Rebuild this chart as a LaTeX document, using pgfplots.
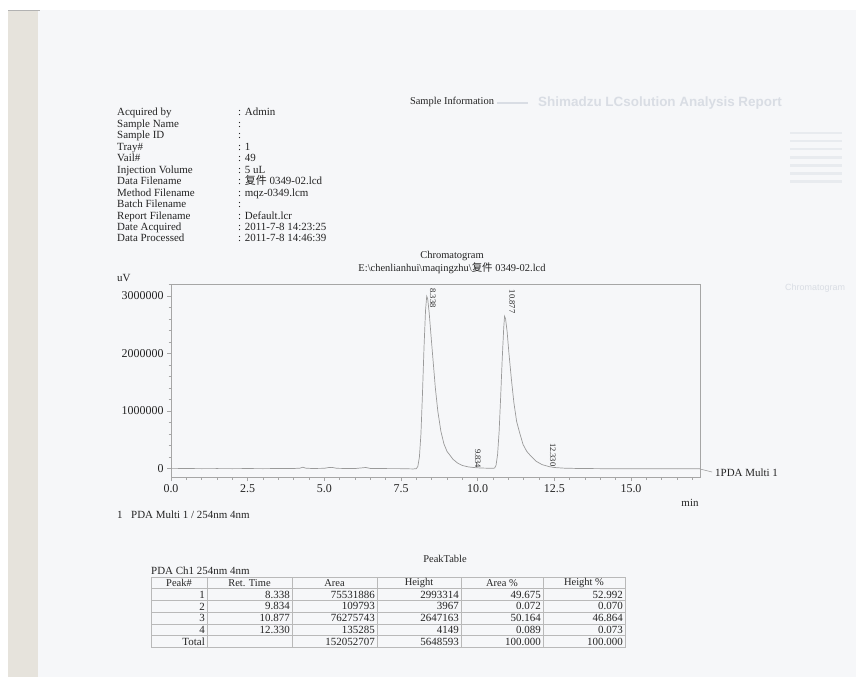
\documentclass[border=0pt]{standalone}
\usepackage{pgfplots}
\pgfplotsset{compat=1.18}
\usepackage{fontspec}
\setmainfont{Liberation Serif}
\newfontfamily\cjk{Noto Sans CJK SC}
\newfontfamily\ghostfont{Liberation Sans}

\definecolor{ink}{HTML}{242424}
\definecolor{paper}{HTML}{F6F7F9}
\definecolor{edge}{HTML}{E6E3DC}
\definecolor{axgray}{HTML}{A6A6A6}
\definecolor{trace}{HTML}{9A9A9A}
\definecolor{ghost}{HTML}{D9DDE4}

\begin{document}
\begin{tikzpicture}[
  txt/.style={inner sep=0pt, text=ink, font=\fontsize{11}{13}\selectfont},
  small/.style={inner sep=0pt, text=ink, font=\fontsize{10.5}{12}\selectfont},
  cell/.style={inner sep=0pt, text=ink, font=\fontsize{11}{12}\selectfont},
]
\begin{scope}[x=1bp, y=-1bp]
  % page and scanner edge
  \path[use as bounding box, fill=white] (0,0) rectangle (856,677);
  \fill[paper] (8,10) rectangle (856,677);
  \fill[edge] (8,10) rectangle (38,677);
  \draw[gray!60, line width=1bp] (8,10.5) -- (40,10.5);

  % bleed-through from the back of the sheet
  \node[inner sep=0pt, text=ghost, anchor=west, font=\ghostfont\bfseries\fontsize{13.5}{15}\selectfont] at (538,103) {Shimadzu LCsolution Analysis Report};
  \draw[ghost, line width=2bp] (497,103) -- (528,103);
  \foreach \i in {0,...,6}
    \fill[ghost!60] (790,{132+8*\i}) rectangle (842,{134.5+8*\i});
  \node[inner sep=0pt, text=ghost, anchor=west, font=\ghostfont\fontsize{9}{11}\selectfont] at (785,288) {Chromatogram};

  % sample information
  \node[small] at (452,102) {Sample Information};
  \foreach \i/\l/\v in {0/Acquired by/Admin, 1/Sample Name/, 2/Sample ID/, 3/Tray\#/1,
      4/Vail\#/49, 5/Injection Volume/5 uL, 6/Data Filename/{{\cjk 复件} 0349-02.lcd},
      7/Method Filename/mqz-0349.lcm, 8/Batch Filename/, 9/Report Filename/Default.lcr,
      10/Date Acquired/2011-7-8 14:23:25, 11/Data Processed/2011-7-8 14:46:39} {
    \node[txt, anchor=base west] at (117,{116+11.45*\i}) {\l};
    \node[txt, anchor=base west] at (238,{116+11.45*\i}) {: \v};
  }

  % chromatogram titles
  \node[small] at (452,256) {Chromatogram};
  \node[small] at (452,268) {E:\textbackslash chenlianhui\textbackslash maqingzhu\textbackslash{\cjk 复件} 0349-02.lcd};
  \node[txt, anchor=west] at (117,278) {uV};
  \node[txt] at (690,503) {min};
  \draw[trace, line width=0.6bp] (700,469) -- (712,472);
  \node[txt, anchor=west] at (715,473) {1PDA Multi 1};
  \node[txt, anchor=west] at (117,515) {1};
  \node[txt, anchor=west] at (131,515) {PDA Multi 1 / 254nm 4nm};

  % peak table
  \node[small] at (445,559) {PeakTable};
  \node[txt, anchor=west] at (151,571) {PDA Ch1 254nm 4nm};
  \draw[gray!55, line width=0.6bp] (151,577) rectangle (625,647.2);
  \foreach \c in {207,292,377,461,543}
    \draw[gray!55, line width=0.6bp] (\c,577) -- (\c,647.2);
  \foreach \r in {1,...,5}
    \draw[gray!55, line width=0.5bp] (151,{577+11.7*\r}) -- (625,{577+11.7*\r});
  \foreach \x/\t in {179/Peak\#, 249.5/Ret. Time, 334.5/Area, 419/Height, 502/Area \%, 584/Height \%}
    \node[small] at (\x,583) {\t};
  \foreach \i/\a/\b/\c/\d/\e/\f in {1/1/8.338/75531886/2993314/49.675/52.992,
      2/2/9.834/109793/3967/0.072/0.070,
      3/3/10.877/76275743/2647163/50.164/46.864,
      4/4/12.330/135285/4149/0.089/0.073,
      5/Total//152052707/5648593/100.000/100.000} {
    \node[cell, anchor=east] at (205,{583+11.7*\i}) {\a};
    \node[cell, anchor=east] at (290,{583+11.7*\i}) {\b};
    \node[cell, anchor=east] at (375,{583+11.7*\i}) {\c};
    \node[cell, anchor=east] at (459,{583+11.7*\i}) {\d};
    \node[cell, anchor=east] at (541,{583+11.7*\i}) {\e};
    \node[cell, anchor=east] at (623,{583+11.7*\i}) {\f};
  }
  \coordinate (ax) at (171,477);
\end{scope}

\begin{axis}[
  at={(ax)}, anchor=south west, scale only axis,
  width=529bp, height=193bp,
  xmin=0, xmax=17.25, ymin=-145000, ymax=3206000,
  axis line style={draw=axgray, line width=0.6bp},
  tick style={draw=axgray, line width=0.6bp},
  tick align=outside, xtick pos=bottom, ytick pos=left,
  major tick length=4bp, minor tick length=2.5bp,
  xtick={0,2.5,5,7.5,10,12.5,15},
  minor xtick={0,0.5,...,17},
  ytick={0,1000000,2000000,3000000},
  minor ytick={0,200000,...,3200000},
  scaled ticks=false,
  xticklabel style={/pgf/number format/.cd, fixed, fixed zerofill, precision=1},
  yticklabel style={/pgf/number format/.cd, fixed, 1000 sep={}},
  /pgf/number format/assume math mode=true,
  ticklabel style={font=\fontsize{12}{14}\selectfont, text=ink},
  clip=false,
]
\addplot[trace, line width=0.7bp] coordinates {
  (0,0) (0.5,2000) (1.0,0) (1.5,1000) (2.0,0) (2.5,1500) (3.0,0) (3.5,2000)
  (4.0,3000) (4.2,8000) (4.3,25000) (4.4,8000) (4.6,3000) (5.0,6000)
  (5.15,20000) (5.25,22000) (5.4,6000) (5.7,3000) (6.0,2000) (6.25,15000)
  (6.35,20000) (6.5,4000) (7.0,1000) (7.5,0) (7.9,-5000) (8.0,0)
  (8.05,40000) (8.10,200000) (8.15,600000) (8.20,1300000) (8.25,2100000)
  (8.30,2750000) (8.338,2993314) (8.37,2950000) (8.42,2700000) (8.48,2300000)
  (8.55,1850000) (8.62,1400000) (8.70,1000000) (8.80,650000) (8.90,430000)
  (9.00,300000) (9.10,230000) (9.20,160000) (9.35,95000) (9.50,55000)
  (9.70,30000) (9.834,22000) (9.95,16000) (10.1,11000) (10.4,7000) (10.55,9000)
  (10.60,60000) (10.65,250000) (10.70,650000) (10.75,1250000) (10.80,1900000)
  (10.85,2450000) (10.877,2647163) (10.91,2600000) (10.96,2380000)
  (11.02,2000000) (11.10,1550000) (11.18,1150000) (11.27,820000)
  (11.37,620000) (11.48,420000) (11.60,300000) (11.75,210000) (11.90,130000)
  (12.10,70000) (12.33,35000) (12.50,20000) (12.80,9000) (13.2,4000)
  (13.5,2000) (14,0) (15,0) (16,0) (17.25,0)
};
\node[rotate=-90, inner sep=0pt, text=ink, font=\fontsize{8.5}{10}\selectfont] at (axis cs:8.54,2960000) {8.338};
\node[rotate=-90, inner sep=0pt, text=ink, font=\fontsize{8.5}{10}\selectfont] at (axis cs:11.12,2900000) {10.877};
\node[rotate=-90, inner sep=0pt, text=ink, font=\fontsize{8.5}{10}\selectfont] at (axis cs:10.01,174000) {9.834};
\node[rotate=-90, inner sep=0pt, text=ink, font=\fontsize{8.5}{10}\selectfont] at (axis cs:12.45,243000) {12.330};
\end{axis}
\end{tikzpicture}
\end{document}
